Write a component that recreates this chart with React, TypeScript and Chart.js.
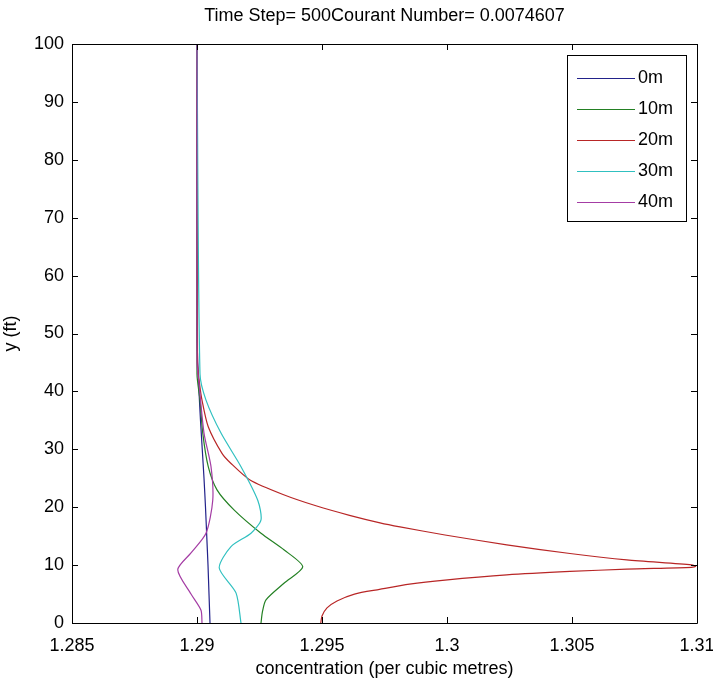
import React, { useEffect, useRef } from "react";
import { Chart, registerables } from "chart.js";

Chart.register(...registerables);

const titleText = "Time Step= 500Courant Number= 0.0074607";
const xTitle = "concentration (per cubic metres)";
const yTitle = "y (ft)";

const seriesLabels = ["0m", "10m", "20m", "30m", "40m"];
const seriesColors = ["#22228a", "#238023", "#b82626", "#30c0c0", "#a43ca4"];

const xTicks = [1.285, 1.29, 1.295, 1.3, 1.305, 1.31];
const yTicks = [0, 10, 20, 30, 40, 50, 60, 70, 80, 90, 100];

// 0m
const depth0 = [0, 5, 10, 15, 20, 25, 30, 35, 40, 45, 50, 100];
const conc0 = [1.29052, 1.29048, 1.29044, 1.29039, 1.29034, 1.29028, 1.29021, 1.29014, 1.29008, 1.29003, 1.29, 1.29];

// 10m
const depth10 = [0, 2, 4, 6.9, 9.7, 12.6, 15.5, 19.5, 23, 27, 32.8, 38.5, 43, 100];
const conc10 = [1.29256, 1.29262, 1.29276, 1.29349, 1.29423, 1.29349, 1.29256, 1.29149, 1.2908, 1.29045, 1.29023, 1.29012, 1.29, 1.29];

// 20m
const depth20 = [0, 1.2, 2.6, 3.8, 5.0, 5.8, 6.7, 7.4, 8.3, 8.9, 9.3, 9.6, 9.8, 10.05, 10.9, 12.0, 13.5, 15.2, 16.6, 17.3, 18.6, 20.2, 22.2, 24.7, 27.6, 29.3, 33.9, 38.5, 41.4, 45, 100];
const conc20 = [1.29495, 1.295, 1.2952, 1.2956, 1.2963, 1.2973, 1.2985, 1.29992, 1.30239, 1.30492, 1.30719, 1.30979, 1.30995, 1.30979, 1.30719, 1.30492, 1.30239, 1.29992, 1.29812, 1.29732, 1.2961, 1.29479, 1.29344, 1.29212, 1.29135, 1.291, 1.29045, 1.2902, 1.2901, 1.29002, 1.29];

// 30m
const depth30 = [0, 5.2, 9.5, 13.2, 15.5, 17.8, 21.2, 27, 32.8, 38.5, 43, 100];
const conc30 = [1.29176, 1.29156, 1.29089, 1.29136, 1.29216, 1.29256, 1.29243, 1.29176, 1.29096, 1.29036, 1.29012, 1.29];

// 40m
const depth40 = [0, 2.2, 5, 9.2, 12.1, 15.5, 21.2, 27, 32.8, 41.4, 45, 100];
const conc40 = [1.2902, 1.29016, 1.28976, 1.28923, 1.28976, 1.29036, 1.29063, 1.29056, 1.29028, 1.29008, 1.29, 1.29];

const seriesDepths = [depth0, depth10, depth20, depth30, depth40];
const seriesConcs = [conc0, conc10, conc20, conc30, conc40];

const FONT = "'Liberation Sans', Arial, sans-serif";
const FONT_SIZE = 18;

const framePlugin = {
  id: "matlabFrame",
  afterDatasetsDraw(chart: any) {
    const { ctx, chartArea, scales } = chart;
    const { left, right, top, bottom } = chartArea;
    const xs = scales.x;
    const ys = scales.y;
    const tl = 6;
    ctx.save();
    ctx.strokeStyle = "#000";
    ctx.lineWidth = 1;
    ctx.beginPath();
    ctx.rect(Math.round(left) + 0.5, Math.round(top) + 0.5, Math.round(right - left), Math.round(bottom - top));
    ctx.stroke();
    ctx.beginPath();
    xTicks.forEach((v) => {
      const px = Math.round(xs.getPixelForValue(v)) + 0.5;
      ctx.moveTo(px, bottom);
      ctx.lineTo(px, bottom - tl);
      ctx.moveTo(px, top);
      ctx.lineTo(px, top + tl);
    });
    yTicks.forEach((v) => {
      const py = Math.round(ys.getPixelForValue(v)) + 0.5;
      ctx.moveTo(left, py);
      ctx.lineTo(left + tl, py);
      ctx.moveTo(right, py);
      ctx.lineTo(right - tl, py);
    });
    ctx.stroke();
    ctx.restore();
  },
};

const legendPlugin = {
  id: "matlabLegend",
  afterDraw(chart: any) {
    const { ctx, chartArea } = chart;
    const boxW = 119;
    const boxH = 166;
    const boxRight = chartArea.right - 11;
    const boxTop = chartArea.top + 11;
    const boxLeft = boxRight - boxW;
    ctx.save();
    ctx.fillStyle = "#fff";
    ctx.fillRect(boxLeft, boxTop, boxW, boxH);
    ctx.strokeStyle = "#000";
    ctx.lineWidth = 1;
    ctx.strokeRect(Math.round(boxLeft) + 0.5, Math.round(boxTop) + 0.5, boxW, boxH);
    ctx.font = `${FONT_SIZE}px ${FONT}`;
    ctx.textBaseline = "middle";
    ctx.textAlign = "left";
    chart.data.datasets.forEach((ds: any, i: number) => {
      const cy = Math.round(boxTop + 23 + i * 31) + 0.5;
      ctx.strokeStyle = ds.borderColor;
      ctx.lineWidth = 1.2;
      ctx.beginPath();
      ctx.moveTo(boxLeft + 10, cy);
      ctx.lineTo(boxLeft + 68, cy);
      ctx.stroke();
      ctx.fillStyle = "#000";
      ctx.fillText(ds.label, boxLeft + 71, cy);
    });
    ctx.restore();
  },
};

export default function App() {
  const canvasRef = useRef<HTMLCanvasElement | null>(null);

  useEffect(() => {
    document.body.style.margin = "0";
    document.body.style.background = "#fff";
    const canvas = canvasRef.current;
    if (!canvas) return;

    const datasets = seriesLabels.map((label, i) => ({
      label,
      data: seriesDepths[i].map((d, j) => ({ x: seriesConcs[i][j], y: d })),
      borderColor: seriesColors[i],
      backgroundColor: seriesColors[i],
      borderWidth: 1.2,
      showLine: true,
      pointRadius: 0,
      tension: 0.25,
      fill: false,
      order: seriesLabels.length - 1 - i,
    }));

    const chart = new Chart(canvas, {
      type: "scatter",
      data: { datasets },
      options: {
        responsive: false,
        animation: false,
        layout: { padding: { left: 0, right: 16, top: 0, bottom: 0 } },
        plugins: {
          legend: { display: false },
          tooltip: { enabled: false },
          title: {
            display: true,
            text: titleText,
            fullSize: false,
            color: "#000",
            font: { family: FONT, size: FONT_SIZE, weight: "normal", lineHeight: 1.2 },
            padding: { top: 5, bottom: 17.4 },
          },
        },
        scales: {
          x: {
            type: "linear",
            min: xTicks[0],
            max: xTicks[xTicks.length - 1],
            afterBuildTicks: (scale: any) => {
              scale.ticks = xTicks.map((v) => ({ value: v }));
            },
            afterFit: (scale: any) => {
              scale.height = 66;
              scale.paddingLeft = 0;
              scale.paddingRight = 0;
            },
            grid: { display: false, drawTicks: false },
            border: { display: false },
            ticks: {
              color: "#000",
              padding: 12,
              maxRotation: 0,
              autoSkip: false,
              font: { family: FONT, size: FONT_SIZE },
              callback: (v: any) => String(Number(Number(v).toFixed(4))),
            },
            title: {
              display: true,
              text: xTitle,
              color: "#000",
              font: { family: FONT, size: FONT_SIZE, lineHeight: 1.2 },
              padding: { top: 0, bottom: 9 },
            },
          },
          y: {
            type: "linear",
            min: yTicks[0],
            max: yTicks[yTicks.length - 1],
            afterBuildTicks: (scale: any) => {
              scale.ticks = yTicks.map((v) => ({ value: v }));
            },
            afterFit: (scale: any) => {
              scale.width = 72;
              scale.paddingTop = 0;
              scale.paddingBottom = 0;
            },
            grid: { display: false, drawTicks: false },
            border: { display: false },
            ticks: {
              color: "#000",
              padding: 8,
              autoSkip: false,
              font: { family: FONT, size: FONT_SIZE },
              callback: (v: any) => String(v),
            },
            title: {
              display: true,
              text: yTitle,
              color: "#000",
              font: { family: FONT, size: FONT_SIZE, lineHeight: 1.2 },
              padding: { top: 0, bottom: 0 },
            },
          },
        },
      },
      plugins: [framePlugin, legendPlugin],
    } as any);

    return () => {
      chart.destroy();
    };
  }, []);

  return (
    <div style={{ width: 713, height: 689, background: "#fff" }}>
      <canvas ref={canvasRef} width={713} height={689} style={{ display: "block" }} />
    </div>
  );
}
